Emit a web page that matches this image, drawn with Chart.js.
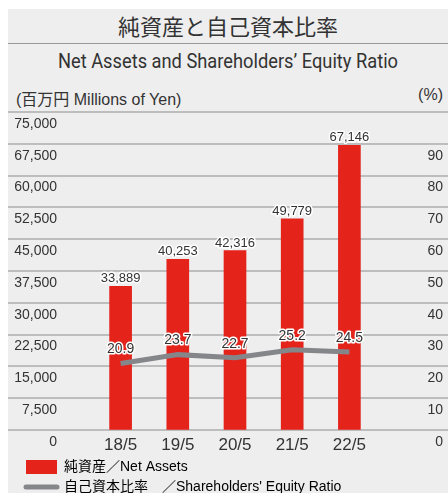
<!DOCTYPE html>
<html>
<head>
<meta charset="utf-8">
<script src="https://cdn.jsdelivr.net/npm/chart.js@4/dist/chart.umd.min.js"></script>
<style>
  html, body { margin: 0; padding: 0; background: #fff; overflow: hidden; }
  #box { position: absolute; left: 8px; top: 9px; width: 440px; height: 484px; background: #eeeeee; overflow: hidden; color: #333; }
  #title { position: absolute; left: 0; top: 0; width: 440px; height: 34px; line-height: 36px; text-align: center;
           font: 22px 'Noto Sans CJK JP', sans-serif; border-bottom: 1px solid #999; }
  #subtitle { position: absolute; left: 0; top: 40px; width: 440px; text-align: center;
              font: 21px 'Roboto', sans-serif; transform: scaleX(0.87); }
  #unitL { position: absolute; left: 8px; top: 77px; font: 16px 'Liberation Sans', 'Noto Sans CJK JP', sans-serif; }
  #unitR { position: absolute; right: 5px; top: 77px; font: 16px 'Liberation Sans', sans-serif; }
  #chart { position: absolute; left: 0; top: 83px; }
</style>
</head>
<body>
<div id="box">
  <div id="title">純資産と自己資本比率</div>
  <div id="subtitle">Net Assets and Shareholders’ Equity Ratio</div>
  <div id="unitL">(百万円 Millions of Yen)</div>
  <div id="unitR">(%)</div>
  <canvas id="chart" width="440" height="412"></canvas>
</div>
<script>
const categories = ["18/5", "19/5", "20/5", "21/5", "22/5"];
const netAssets = [33889, 40253, 42316, 49779, 67146];
const equityRatio = [20.9, 23.7, 22.7, 25.2, 24.5];
const legendLabels = ["純資産／Net Assets", "自己資本比率　／Shareholders' Equity Ratio"];

const SANS = "'Liberation Sans', 'Noto Sans CJK JP', sans-serif";
const RED = "#e4231b";
const GRAY = "#85868a";

// horizontal rules across the whole panel, at the left axis ticks
const fullGrid = {
    id: "fullGrid",
    afterLayout(chart) {
        // push legend in from the panel edge
        chart.legend.left = 12;
    },
    beforeDatasetsDraw(chart) {
        const ctx = chart.ctx;
        const y = chart.scales.y;
        ctx.save();
        ctx.strokeStyle = "#bdbdbd";
        ctx.lineWidth = 2;
        y.ticks.forEach(t => {
            const py = Math.round(y.getPixelForValue(t.value));
            ctx.beginPath();
            ctx.moveTo(0, py);
            ctx.lineTo(chart.width, py);
            ctx.stroke();
        });
        ctx.restore();
    }
};

// value labels with a white halo
const valueLabels = {
    id: "valueLabels",
    afterDatasetsDraw(chart) {
        const ctx = chart.ctx;
        ctx.save();
        ctx.textAlign = "center";
        ctx.lineJoin = "round";
        ctx.lineWidth = 3;
        ctx.strokeStyle = "#fff";
        ctx.fillStyle = "#333";

        ctx.font = "13px " + SANS;
        ctx.textBaseline = "bottom";
        chart.getDatasetMeta(0).data.forEach((el, i) => {
            const txt = netAssets[i].toLocaleString("en-US");
            ctx.strokeText(txt, el.x, el.y - 1);
            ctx.fillText(txt, el.x, el.y - 1);
        });

        ctx.font = "14px " + SANS;
        ctx.textBaseline = "middle";
        chart.getDatasetMeta(1).data.forEach((el, i) => {
            const txt = equityRatio[i].toFixed(1);
            ctx.strokeText(txt, el.x, el.y - 14);
            ctx.fillText(txt, el.x, el.y - 14);
        });
        ctx.restore();
    }
};

new Chart(document.getElementById("chart"), {
    data: {
        labels: categories,
        datasets: [{
            type: "bar",
            label: legendLabels[0],
            data: netAssets,
            backgroundColor: RED,
            barThickness: 22,
            yAxisID: "y",
            order: 1
        }, {
            type: "line",
            label: legendLabels[1],
            data: equityRatio,
            borderColor: GRAY,
            borderWidth: 5,
            pointRadius: 0,
            tension: 0,
            yAxisID: "y1",
            order: 0
        }]
    },
    options: {
        responsive: false,
        animation: false,
        layout: { padding: { top: 20, left: 0, right: 5, bottom: 0 } },
        scales: {
            x: {
                grid: { display: false },
                border: { display: false },
                ticks: { color: "#333", font: { family: SANS, size: 17 }, padding: -3 },
                afterFit(s) { s.height = 24; }
            },
            y: {
                position: "left",
                min: 0,
                max: 75000,
                grid: { color: "transparent", drawOnChartArea: false, tickLength: 30 },
                border: { display: false },
                ticks: {
                    stepSize: 7500,
                    padding: 5,
                    labelOffset: 12,
                    color: "#333",
                    font: { family: SANS, size: 14 }
                },
                afterFit(s) { s.width = 84; }
            },
            y1: {
                position: "right",
                min: 0,
                max: 100,
                grid: { display: false },
                border: { display: false },
                ticks: {
                    stepSize: 10,
                    crossAlign: "far",
                    labelOffset: 12,
                    color: "#333",
                    font: { family: SANS, size: 14 },
                    callback: v => (v === 100 ? "" : v)
                },
                afterFit(s) { s.width = 65; }
            }
        },
        plugins: {
            tooltip: { enabled: false },
            legend: {
                position: "bottom",
                align: "start",
                labels: {
                    color: "#333",
                    font: { family: SANS, size: 14 },
                    padding: 6,
                    usePointStyle: true,
                    pointStyleWidth: 31,
                    boxHeight: 16,
                    generateLabels() {
                        return [{
                            text: legendLabels[0],
                            fillStyle: RED,
                            strokeStyle: RED,
                            lineWidth: 0,
                            pointStyle: "rect",
                            datasetIndex: 0
                        }, {
                            text: legendLabels[1],
                            fillStyle: GRAY,
                            strokeStyle: GRAY,
                            lineWidth: 5,
                            lineCap: "round",
                            pointStyle: "line",
                            datasetIndex: 1
                        }];
                    }
                }
            }
        }
    },
    plugins: [fullGrid, valueLabels]
});
</script>
</body>
</html>
